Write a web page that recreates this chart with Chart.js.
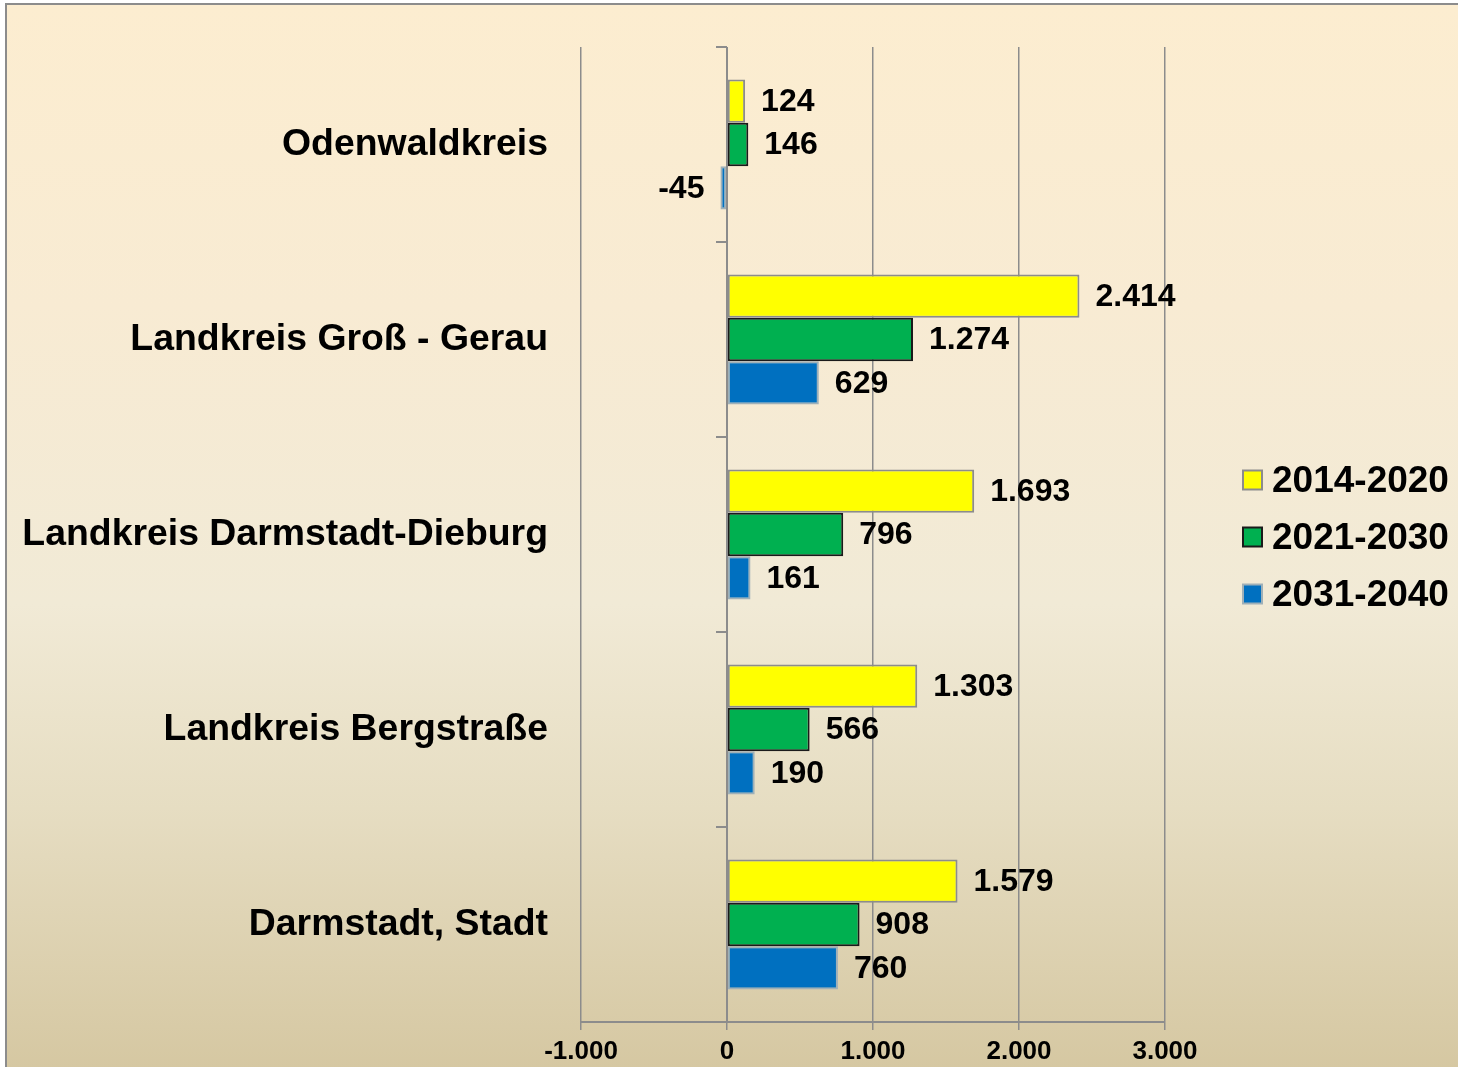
<!DOCTYPE html>
<html>
<head>
<meta charset="utf-8">
<script src="https://cdn.jsdelivr.net/npm/chart.js@4/dist/chart.umd.min.js"></script>
<style>
  html, body { margin: 0; padding: 0; width: 1458px; height: 1067px; overflow: hidden; background: #ffffff; }
  #frame {
    position: absolute; left: 5px; top: 3px; width: 1460px; height: 1070px;
    border-left: 2px solid #8c8c8c; border-top: 2px solid #8c8c8c;
    background: linear-gradient(to bottom, #FCEDD0 0%, #F8EBD3 28%, #F1EAD6 56%, #E6DDC2 75%, #D5C7A1 100%);
  }
  #wrap { position: absolute; left: 0; top: 0; width: 1458px; height: 1067px; }
</style>
</head>
<body>
<div id="frame"></div>
<div id="wrap"><canvas id="c" width="1458" height="1067"></canvas></div>
<script>
const categories = ['Odenwaldkreis', 'Landkreis Groß - Gerau', 'Landkreis Darmstadt-Dieburg', 'Landkreis Bergstraße', 'Darmstadt, Stadt'];
const seriesNames = ['2014-2020', '2021-2030', '2031-2040'];
const values2014_2020 = [124, 2414, 1693, 1303, 1579];
const values2021_2030 = [146, 1274, 796, 566, 908];
const values2031_2040 = [-45, 629, 161, 190, 760];
const xTicks = [-1000, 0, 1000, 2000, 3000];

const fillColors = ['#FFFF00', '#00B050', '#0070C0'];
const borderColors = ['#8c8c8c', '#1a1a1a', '#9fb0b8'];
const FONT = '"Liberation Sans", Arial, Helvetica, sans-serif';

function fmt(v) {
  const s = String(Math.abs(v)).replace(/\B(?=(\d{3})+(?!\d))/g, '.');
  return (v < 0 ? '-' : '') + s;
}

const seriesValues = [values2014_2020, values2021_2030, values2031_2040];

const overlay = {
  id: 'overlay',
  afterDatasetsDraw(chart) {
    const ctx = chart.ctx;
    const xs = chart.scales.x, ys = chart.scales.y;
    const x0 = xs.getPixelForValue(0);
    ctx.save();
    ctx.strokeStyle = '#8c8c8c';
    ctx.lineWidth = 2;
    ctx.beginPath();
    ctx.moveTo(x0, chart.chartArea.top);
    ctx.lineTo(x0, chart.chartArea.bottom);
    ctx.stroke();
    for (let i = 0; i <= categories.length; i++) {
      const y = ys.getPixelForValue(i - 0.5);
      ctx.beginPath();
      ctx.moveTo(x0 - 11, Math.round(y));
      ctx.lineTo(x0, Math.round(y));
      ctx.stroke();
    }
    ctx.fillStyle = '#000';
    ctx.font = 'bold 32px ' + FONT;
    ctx.textBaseline = 'middle';
    chart.data.datasets.forEach((ds, di) => {
      const meta = chart.getDatasetMeta(di);
      meta.data.forEach((bar, i) => {
        const v = ds.data[i];
        if (v >= 0) {
          ctx.textAlign = 'left';
          ctx.fillText(fmt(v), bar.x + 16, bar.y + 1);
        } else {
          ctx.textAlign = 'right';
          ctx.fillText(fmt(v), bar.x - 16, bar.y + 1);
        }
      });
    });
    const lx = chart.chartArea.right + 78;
    const midY = (chart.chartArea.top + chart.chartArea.bottom) / 2;
    const offs = [-54, 3, 60];
    ctx.font = 'bold 37px ' + FONT;
    ctx.textAlign = 'left';
    seriesNames.forEach((name, k) => {
      const cy = midY + offs[k];
      ctx.fillStyle = fillColors[k];
      ctx.fillRect(lx, cy - 10, 19, 19);
      ctx.strokeStyle = borderColors[k];
      ctx.lineWidth = 2;
      ctx.strokeRect(lx, cy - 10, 19, 19);
      ctx.fillStyle = '#000';
      ctx.fillText(name, lx + 29, cy + 1);
    });
    ctx.restore();
  }
};

new Chart(document.getElementById('c'), {
  type: 'bar',
  data: {
    labels: categories,
    datasets: seriesNames.map((name, k) => ({
      label: name,
      data: seriesValues[k],
      backgroundColor: fillColors[k],
      borderColor: borderColors[k],
      borderWidth: 2,
      borderSkipped: false,
      categoryPercentage: 0.667,
      barPercentage: 1.0
    }))
  },
  options: {
    indexAxis: 'y',
    responsive: false,
    animation: false,
    devicePixelRatio: 1,
    layout: { padding: { left: 0, top: 47, right: 293, bottom: 0 } },
    plugins: { legend: { display: false }, tooltip: { enabled: false } },
    scales: {
      x: {
        min: -1000, max: 3000,
        afterBuildTicks(scale) { scale.ticks = xTicks.map(v => ({ value: v })); },
        afterFit(scale) { scale.height = 45; scale.paddingLeft = 0; scale.paddingRight = 0; },
        grid: { color: '#8c8c8c', lineWidth: 1.5, tickLength: 8, drawOnChartArea: true },
        border: { display: true, color: '#8c8c8c', width: 2 },
        ticks: {
          color: '#000', padding: 6, maxRotation: 0,
          font: { family: FONT, size: 26, weight: 'bold' },
          callback: (v) => fmt(v)
        }
      },
      y: {
        afterFit(scale) { scale.width = 581; scale.paddingTop = 0; scale.paddingBottom = 0; },
        grid: { display: false, drawTicks: false },
        border: { display: false },
        ticks: {
          color: '#000', padding: 33,
          font: { family: FONT, size: 37.4, weight: 'bold' }
        }
      }
    }
  },
  plugins: [overlay]
});
</script>
</body>
</html>
